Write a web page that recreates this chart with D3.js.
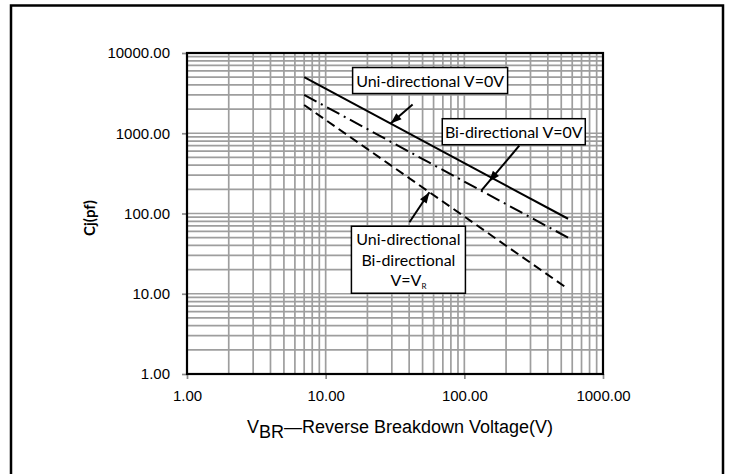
<!DOCTYPE html>
<html>
<head>
<meta charset="utf-8">
<script src="https://cdn.jsdelivr.net/npm/d3@7"></script>
<style>
  body { margin: 0; background: #fff; }
  svg { display: block; }
  .tick text { font-family: "Liberation Sans", Arial, sans-serif; font-size: 15px; fill: #000; }
  .note text { font-family: Lato, "Noto Sans", sans-serif; font-size: 16px; fill: #000; }
</style>
</head>
<body>
<svg id="chart" width="732" height="474"></svg>
<script>
// values (log-log, straight lines)
const voltage = [7, 560];
const cjUniZero = [5000, 86];     // uni-directional, V=0V (solid)
const cjBiZero = [3000, 50];      // bi-directional, V=0V (dash-dot)
const cjRated = [2250, 11.5];     // uni/bi-directional, V=VR (dashed)

const xTicks = [1, 10, 100, 1000];
const yTicks = [1, 10, 100, 1000, 10000];

const fmt = d3.format('.2f');

const svg = d3.select('#chart');

const x = d3.scaleLog().domain([1, 1000]).range([187, 603]);
const y = d3.scaleLog().domain([1, 10000]).range([374, 53]);

// outer frame
svg.append('rect')
    .attr('x', 11).attr('y', 5.5)
    .attr('width', 712).attr('height', 480)
    .attr('fill', 'none')
    .attr('stroke', '#000')
    .attr('stroke-width', 2.5);

// grid
const grid = svg.append('g').attr('stroke', '#9e9e9e').attr('stroke-width', 1.7);
grid.selectAll('line.v')
    .data(x.ticks())
    .join('line').attr('class', 'v')
    .attr('x1', d => x(d)).attr('x2', d => x(d))
    .attr('y1', y.range()[0]).attr('y2', y.range()[1]);
grid.selectAll('line.h')
    .data(y.ticks())
    .join('line').attr('class', 'h')
    .attr('y1', d => y(d)).attr('y2', d => y(d))
    .attr('x1', x.range()[0]).attr('x2', x.range()[1]);

// axes
const xAxis = svg.append('g')
    .attr('transform', `translate(0,${y.range()[0]})`)
    .call(d3.axisBottom(x).tickValues(xTicks).tickFormat(fmt).tickSize(5).tickPadding(11));
const yAxis = svg.append('g')
    .attr('transform', `translate(${x.range()[0]},0)`)
    .call(d3.axisLeft(y).tickValues(yTicks).tickFormat(fmt).tickSize(5).tickPadding(12));
[xAxis, yAxis].forEach(a => {
    a.select('.domain').remove();
    a.selectAll('.tick line').attr('stroke', '#8c8c8c').attr('stroke-width', 1.7);
});
xAxis.selectAll('.tick text').attr('dy', null).attr('y', 27);

// plot frame
svg.append('rect')
    .attr('x', x.range()[0]).attr('y', y.range()[1])
    .attr('width', x.range()[1] - x.range()[0])
    .attr('height', y.range()[0] - y.range()[1])
    .attr('fill', 'none')
    .attr('stroke', '#000')
    .attr('stroke-width', 2.2);

// series
const series = [
    { values: cjUniZero, dash: null },
    { values: cjBiZero, dash: '14,5,2,5' },
    { values: cjRated, dash: '9,5' }
];
const line = d3.line().x(d => x(d[0])).y(d => y(d[1]));

svg.append('g').selectAll('path')
    .data(series)
    .join('path')
    .attr('d', s => line(voltage.map((v, i) => [v, s.values[i]])))
    .attr('fill', 'none')
    .attr('stroke', '#000')
    .attr('stroke-width', 2)
    .attr('stroke-dasharray', s => s.dash);

// value on a series line at voltage v (straight in log-log)
function onLine(vals, v) {
    const t = (Math.log(v) - Math.log(voltage[0])) / (Math.log(voltage[1]) - Math.log(voltage[0]));
    return Math.exp(Math.log(vals[0]) + t * (Math.log(vals[1]) - Math.log(vals[0])));
}

// annotations: arrow end sits on a line, tail and box are offsets from it
const notes = [
    { vals: cjUniZero, at: 29.4, tail: [22, -19], head: 1, box: [-38, -56, 155, 26],
      lines: [[{ t: 'Uni-directional V=0V' }]] },
    { vals: cjBiZero, at: 132.5, tail: [38, -45], head: 0.8, box: [-39, -72, 143, 26],
      lines: [[{ t: 'Bi-directional V=0V' }]] },
    { vals: cjRated, at: 56, tail: [-20, 30], head: 1, box: [-78, 34, 114, 67],
      lines: [[{ t: 'Uni-directional' }], [{ t: 'Bi-directional' }], [{ t: 'V=V' }, { t: 'R', sub: true }]] }
];

const ng = svg.append('g').attr('class', 'note');
notes.forEach(n => {
    const ex = x(n.at), ey = y(onLine(n.vals, n.at));
    const tx = ex + n.tail[0], ty = ey + n.tail[1];
    ng.append('line')
        .attr('x1', tx).attr('y1', ty).attr('x2', ex).attr('y2', ey)
        .attr('stroke', '#000').attr('stroke-width', 2);
    // arrow head
    const hx = tx + (ex - tx) * n.head, hy = ty + (ey - ty) * n.head;
    const ang = Math.atan2(ey - ty, ex - tx);
    const L = 11, W = 4;
    const bx = hx - L * Math.cos(ang), by = hy - L * Math.sin(ang);
    ng.append('path')
        .attr('d', `M${hx},${hy}L${bx - W * Math.sin(ang)},${by + W * Math.cos(ang)}L${bx + W * Math.sin(ang)},${by - W * Math.cos(ang)}Z`)
        .attr('fill', '#000');
    const [dx, dy, w, h] = n.box;
    const bx0 = ex + dx, by0 = ey + dy;
    ng.append('rect')
        .attr('x', bx0).attr('y', by0).attr('width', w).attr('height', h)
        .attr('fill', '#fff').attr('stroke', '#000').attr('stroke-width', 1.5);
    const lh = 20.5;
    const top = by0 + h / 2 - (n.lines.length - 1) * lh / 2 + 6;
    n.lines.forEach((parts, i) => {
        const t = ng.append('text')
            .attr('x', bx0 + w / 2).attr('y', top + i * lh)
            .attr('text-anchor', 'middle');
        parts.forEach(p => {
            const sp = t.append('tspan').text(p.t);
            if (p.sub) sp.attr('font-size', '8px').attr('dy', 3);
        });
    });
});

// axis titles
svg.append('text')
    .attr('transform', `translate(95,218) rotate(-90)`)
    .attr('text-anchor', 'middle')
    .style('font-family', 'Lato, "Noto Sans", sans-serif')
    .style('font-weight', 'bold')
    .style('font-size', '15px')
    .text('Cj(pf)');

const xt = svg.append('text')
    .attr('x', 400).attr('y', 433)
    .attr('text-anchor', 'middle')
    .style('font-family', '"Liberation Sans", Arial, sans-serif')
    .style('font-size', '18px');
xt.append('tspan').text('V');
xt.append('tspan').attr('dy', 5).text('BR');
xt.append('tspan').attr('dy', -5).text('\u2014Reverse Breakdown Voltage(V)');
</script>
</body>
</html>
